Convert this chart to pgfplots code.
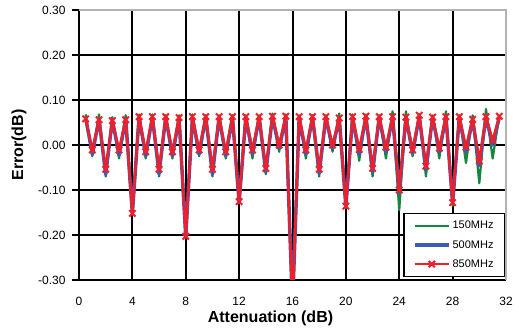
\documentclass[border=0pt]{standalone}
\usepackage{fontspec}
\setmainfont{Liberation Sans}
\usepackage{pgfplots}
\usepackage{pgfplotstable}
\pgfplotsset{compat=1.18}
\usetikzlibrary{calc}
\definecolor{cgreen}{RGB}{20,135,60}
\definecolor{cblue}{RGB}{60,90,190}
\definecolor{cred}{RGB}{238,32,42}
\pgfplotstableread{
x g b r
0.5 0.068 0.060 0.058
1.0 -0.025 -0.020 -0.011
1.5 0.068 0.058 0.056
2.0 -0.070 -0.065 -0.054
2.5 0.062 0.056 0.054
3.0 -0.030 -0.022 -0.011
3.5 0.066 0.058 0.056
4.0 -0.155 -0.152 -0.152
4.5 0.068 0.062 0.063
5.0 -0.030 -0.024 -0.015
5.5 0.068 0.062 0.063
6.0 -0.070 -0.064 -0.054
6.5 0.066 0.062 0.063
7.0 -0.030 -0.024 -0.015
7.5 0.066 0.060 0.061
8.0 -0.205 -0.204 -0.203
8.5 0.068 0.062 0.063
9.0 -0.025 -0.020 -0.011
9.5 0.066 0.062 0.063
10.0 -0.070 -0.065 -0.054
10.5 0.066 0.062 0.063
11.0 -0.030 -0.024 -0.015
11.5 0.066 0.062 0.063
12.0 -0.130 -0.128 -0.126
12.5 0.066 0.062 0.063
13.0 -0.030 -0.020 -0.011
13.5 0.066 0.062 0.063
14.0 -0.065 -0.060 -0.052
14.5 0.070 0.063 0.064
15.0 -0.015 -0.008 0.000
15.5 0.068 0.063 0.064
16.0 -0.360 -0.360 -0.360
16.5 0.066 0.062 0.063
17.0 -0.030 -0.020 -0.011
17.5 0.066 0.062 0.063
18.0 -0.070 -0.063 -0.054
18.5 0.066 0.062 0.063
19.0 -0.015 -0.008 0.000
19.5 0.070 0.060 0.060
20.0 -0.140 -0.137 -0.136
20.5 0.068 0.062 0.063
21.0 -0.035 -0.020 -0.010
21.5 0.068 0.063 0.064
22.0 -0.070 -0.060 -0.052
22.5 0.066 0.062 0.063
23.0 -0.030 -0.015 -0.005
23.5 0.075 0.062 0.063
24.0 -0.145 -0.105 -0.100
24.5 0.075 0.062 0.062
25.0 -0.025 -0.018 -0.011
25.5 0.068 0.064 0.066
26.0 -0.070 -0.055 -0.047
26.5 0.066 0.062 0.062
27.0 -0.030 -0.015 -0.007
27.5 0.075 0.062 0.063
28.0 -0.135 -0.130 -0.128
28.5 0.066 0.062 0.063
29.0 -0.040 -0.015 -0.005
29.5 0.066 0.057 0.057
30.0 -0.085 -0.045 -0.036
30.5 0.080 0.062 0.063
31.0 -0.030 0.000 0.010
31.5 0.066 0.062 0.064
}\datatable
\begin{document}
\begin{tikzpicture}
\begin{axis}[
  width=427pt, height=270pt, scale only axis,
  xmin=0, xmax=32, ymin=-0.3, ymax=0.3,
  xtick={0,4,8,12,16,20,24,28,32},
  ytick={-0.3,-0.2,-0.1,0,0.1,0.2,0.3},
  /pgf/number format/assume math mode=true,
  ticklabel style={font=\fontsize{12}{14}\selectfont},
  xticklabel style={yshift=-7pt},
  yticklabel style={xshift=-3pt, /pgf/number format/.cd, fixed, fixed zerofill, precision=2},
  axis x line*=bottom, axis y line*=left,
  axis line style={black, line width=2.2pt},
  grid=major,
  major grid style={black, line width=2pt},
  tick align=outside,
  major tick length=7pt,
  ytick style={black, line width=2pt},
  xtick style={draw=none},
  clip mode=individual,
  xlabel={Attenuation (dB)},
  ylabel={Error(dB)},
  every axis x label/.style={at={(axis description cs:0.4485,0)}, anchor=center, yshift=-38pt, font=\fontsize{16}{19}\selectfont\bfseries},
  every axis y label/.style={at={(axis description cs:0,0.5)}, rotate=90, anchor=center, yshift=60pt, font=\fontsize{16}{19}\selectfont\bfseries},
  legend cell align=left,
  legend image code/.code={\draw[mark repeat=2,mark phase=2,#1] plot coordinates {(0cm,0cm) (0.6cm,0cm) (1.2cm,0cm)};},
  legend style={at={(0.998,0.01)}, anchor=south east, draw=black, line width=1.2pt, fill=white,
    font=\fontsize{11}{13}\selectfont, row sep=6pt, inner xsep=9pt, inner ysep=6pt},
]
\addplot[cgreen, line width=2.2pt, line join=round] table[x=x,y=g] {\datatable};
\addlegendentry{150MHz}
\addplot[cblue, line width=3.5pt, line join=round] table[x=x,y=b] {\datatable};
\addlegendentry{500MHz}
\addplot[cred, line width=2.5pt, line join=round, mark=x, mark size=4.5pt, mark options={line width=2pt}] table[x=x,y=r] {\datatable};
\addlegendentry{850MHz}
\draw[gray!60, line width=2.5pt] (rel axis cs:0,1) -- (rel axis cs:1,1) -- (rel axis cs:1,0);
\end{axis}
\pgfresetboundingbox
\path[use as bounding box] ($(current axis.south west)+(-79pt,-51pt)$) rectangle ($(current axis.north east)+(13pt,10pt)$);
\end{tikzpicture}
\end{document}
